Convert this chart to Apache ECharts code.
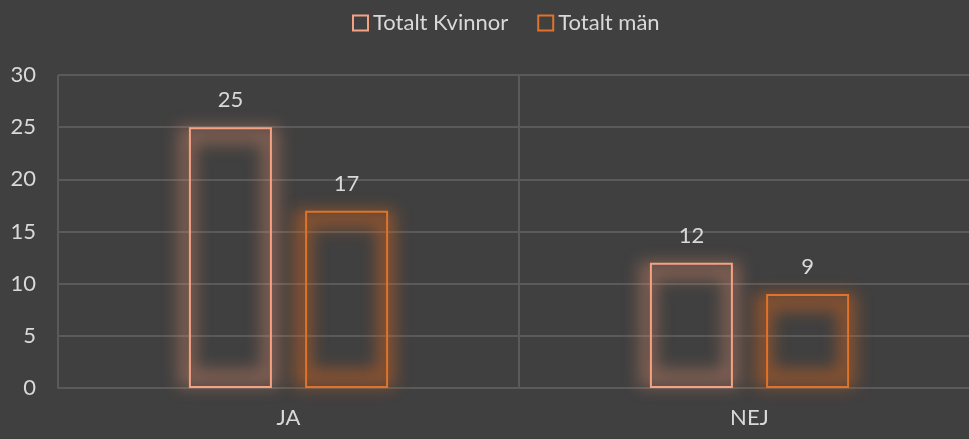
<!DOCTYPE html>
<html><head><meta charset="utf-8">
<script src="https://cdn.jsdelivr.net/npm/echarts@6/dist/echarts.min.js"></script>
<style>html,body{margin:0;padding:0;background:#404040;}#c{width:969px;height:439px;}</style>
</head><body><div id="c"></div>
<script>
const categories = ['JA', 'NEJ'];
const seriesNames = ['Totalt Kvinnor', 'Totalt män'];
const kvinnor = [25, 12];
const man = [17, 9];
const yTicks = [0, 5, 10, 15, 20, 25, 30];

const colors = ['#F4A283', '#E07329'];
const glowShadow = ['rgba(240,150,115,0.36)', 'rgba(225,105,30,0.46)'];
const font = 'Lato, "Open Sans", sans-serif';
const SHIFT = 1000;

function mk(name, data, i) {
  return {
    name: name, type: 'bar', data: data, xAxisIndex: 0, yAxisIndex: 0, z: 3,
    barWidth: 83, barGap: '40%',
    itemStyle: { color: 'rgba(0,0,0,0)', borderColor: colors[i], borderWidth: 2 },
    label: { show: true, position: 'top', distance: 16, color: '#d9d9d9', fontSize: 22, fontFamily: font },
    emphasis: { disabled: true }
  };
}
function glow(name, data, i) {
  return {
    name: name + ' glow', type: 'bar', data: data, xAxisIndex: 1, yAxisIndex: 1, z: 2,
    silent: true, clip: false,
    barWidth: 101, barGap: '14.85%',
    itemStyle: { color: 'rgba(0,0,0,0)', borderColor: '#000', borderWidth: 18,
      shadowColor: glowShadow[i], shadowBlur: 16, shadowOffsetX: -2, shadowOffsetY: SHIFT - 1 },
    label: { show: false },
    emphasis: { disabled: true }
  };
}
const chart = echarts.init(document.getElementById('c'));
chart.setOption({
  backgroundColor: '#404040',
  animation: false,
  legend: {
    top: 7, left: 347, itemWidth: 15, itemHeight: 15, itemGap: 29,
    textStyle: { color: '#d9d9d9', fontSize: 22, fontFamily: font },
    data: seriesNames.map((n, i) => ({ name: n, icon: 'rect',
      itemStyle: { color: 'rgba(0,0,0,0)', borderColor: colors[i], borderWidth: 2, shadowBlur: 0 } }))
  },
  grid: [
    { left: 58, right: -11, top: 75, bottom: 51, containLabel: false, outerBoundsMode: 'none' },
    { left: 58, right: -11, top: 75 - SHIFT, height: 313, containLabel: false, outerBoundsMode: 'none' }
  ],
  xAxis: [{
    type: 'category', data: categories, boundaryGap: true, gridIndex: 0,
    axisLine: { show: true, lineStyle: { color: '#5a5a5a', width: 2 } },
    axisTick: { show: false },
    splitLine: { show: true, lineStyle: { color: '#5a5a5a', width: 2 } },
    axisLabel: { color: '#d9d9d9', fontSize: 22, fontFamily: font, margin: 19 }
  }, {
    type: 'category', data: categories, show: false, gridIndex: 1
  }],
  yAxis: [{
    type: 'value', min: yTicks[0], max: yTicks[yTicks.length - 1], interval: 5, gridIndex: 0,
    axisLine: { show: false }, axisTick: { show: false },
    splitLine: { lineStyle: { color: '#5a5a5a', width: 2 } },
    axisLabel: { color: '#d9d9d9', fontSize: 22, fontFamily: font, margin: 22 }
  }, {
    type: 'value', min: yTicks[0], max: yTicks[yTicks.length - 1], interval: 5, gridIndex: 1, show: false
  }],
  series: [glow(seriesNames[0], kvinnor, 0), glow(seriesNames[1], man, 1),
           mk(seriesNames[0], kvinnor, 0), mk(seriesNames[1], man, 1)]
});
</script></body></html>
